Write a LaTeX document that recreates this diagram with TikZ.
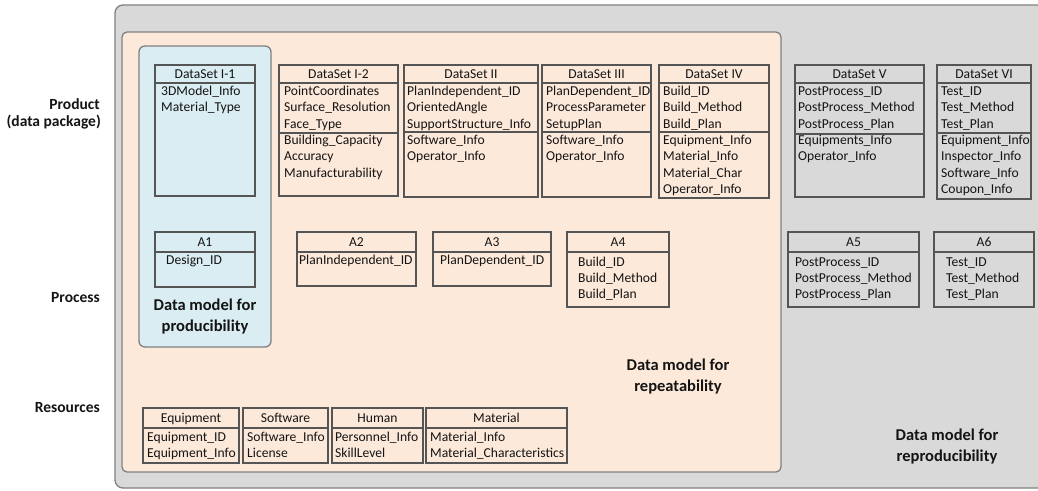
\documentclass[tikz,border=0pt]{standalone}
\usepackage{fontspec}
\setmainfont{Carlito}
\usetikzlibrary{fit}
\definecolor{greybg}{HTML}{D9D9D9}
\definecolor{greyln}{HTML}{808080}
\definecolor{peach}{HTML}{FDE9DA}
\definecolor{bluebg}{HTML}{DAEDF3}
\definecolor{boxln}{HTML}{555555}
\definecolor{txt}{HTML}{141414}
\newcommand\lnoff{12.5}
\newcommand\lnpitch{16.3}
% name, x1, y1, x2, y2, divider y, title, text x, lines
\newcommand\dbox[9]{%
  \node[bx, fit={(#2,#3) (#4,#5)}] (#1) {};
  \draw[bl] (#2,#6) -- (#4,#6);
  \node[ttl] (#1-t) at ({(#2+#4)/2},{(#3+#6)/2+4.5}) {#7};
  \foreach \t [count=\i] in {#9}
    \node[ln] (#1-\i) at (#8,{#6+\lnoff+(\i-1)*\lnpitch}) {\t};
}
\begin{document}
\begin{tikzpicture}[x=1pt,y=-1pt,
  font=\fontsize{13.6}{16}\selectfont, text=txt,
  bx/.style={draw=boxln, line width=1.2pt, inner sep=0pt},
  bl/.style={draw=boxln, line width=1.2pt},
  ttl/.style={anchor=base, inner sep=0pt},
  ln/.style={anchor=base west, inner sep=0pt},
  lbl/.style={font=\fontsize{15.5}{18}\selectfont\bfseries, anchor=base east, inner sep=0pt},
  big/.style={font=\fontsize{16.5}{21}\selectfont\bfseries, align=center, inner sep=0pt},
  region/.style={draw=greyln, line width=1.3pt}]
\clip (0,0) rectangle (1038,490);
\fill[white] (0,0) rectangle (1038,490);
% regions
\draw[region, fill=greybg, rounded corners=8pt] (115,5) rectangle (1070,488);
\draw[region, fill=peach, rounded corners=5pt] (122,32) rectangle (781,472);
\draw[region, fill=bluebg, rounded corners=6pt] (139,46) rectangle (271,347);
% row labels
\node[lbl] (lprod) at (100,109) {Product};
\node[lbl] (lpkg) at (101,126) {(data package)};
\node[lbl] (lproc) at (100,302) {Process};
\node[lbl] (lres) at (100,412) {Resources};
% data sets
\dbox{ds1}{155}{65}{255}{196}{83}{DataSet I-1}{161}{3DModel\_Info,Material\_Type}
\dbox{ds2}{279}{65}{398}{196}{83}{DataSet I-2}{284}{PointCoordinates,Surface\_Resolution,Face\_Type,Building\_Capacity,Accuracy,Manufacturability}
\draw[bl] (279,133) -- (398,133);
\dbox{ds3}{404}{65}{538}{197}{83}{DataSet II}{407}{PlanIndependent\_ID,OrientedAngle,SupportStructure\_Info,Software\_Info,Operator\_Info}
\draw[bl] (404,132) -- (538,132);
\dbox{ds4}{542}{65}{651}{197}{83}{DataSet III}{546}{PlanDependent\_ID,ProcessParameter,SetupPlan,Software\_Info,Operator\_Info}
\draw[bl] (542,132) -- (651,132);
\dbox{ds5}{659}{65}{769}{198}{83}{DataSet IV}{663}{Build\_ID,Build\_Method,Build\_Plan,Equipment\_Info,Material\_Info,Material\_Char,Operator\_Info}
\draw[bl] (659,132) -- (769,132);
\dbox{ds6}{795}{65}{924}{197}{83}{DataSet V}{798}{PostProcess\_ID,PostProcess\_Method,PostProcess\_Plan,Equipments\_Info,Operator\_Info}
\draw[bl] (795,134) -- (924,134);
\dbox{ds7}{937}{65}{1031}{199}{83}{DataSet VI}{941}{Test\_ID,Test\_Method,Test\_Plan,Equipment\_Info,Inspector\_Info,Software\_Info,Coupon\_Info}
\draw[bl] (937,133) -- (1031,133);
% process boxes
\renewcommand\lnoff{12.5}
\renewcommand\lnpitch{16}
\dbox{a1}{155}{232}{255}{287}{252}{A1}{166}{Design\_ID}
\dbox{a2}{297}{232}{416}{286}{252}{A2}{299}{PlanIndependent\_ID}
\dbox{a3}{433}{232}{551}{286}{252}{A3}{440}{PlanDependent\_ID}
\renewcommand\lnoff{14.5}
\dbox{a4}{567}{232}{669}{307}{252}{A4}{578}{Build\_ID,Build\_Method,Build\_Plan}
\dbox{a5}{788}{232}{919}{307}{252}{A5}{795}{PostProcess\_ID,PostProcess\_Method,PostProcess\_Plan}
\dbox{a6}{934}{232}{1034}{307}{252}{A6}{946}{Test\_ID,Test\_Method,Test\_Plan}
% resources
\renewcommand\lnoff{13.5}
\renewcommand\lnpitch{15.5}
\dbox{r1}{143}{408}{239}{463}{428}{Equipment}{147}{Equipment\_ID,Equipment\_Info}
\dbox{r2}{243}{408}{328}{463}{428}{Software}{247}{Software\_Info,License}
\dbox{r3}{332}{408}{423}{463}{428}{Human}{335}{Personnel\_Info,SkillLevel}
\dbox{r4}{426}{408}{567}{463}{428}{Material}{430}{Material\_Info,Material\_Characteristics}
% model labels
\node[big] (mprod) at (205,317) {Data model for\\producibility};
\node[big] (mrep) at (678,377) {Data model for\\repeatability};
\node[big] (mrepro) at (947,446.5) {Data model for\\reproducibility};
\end{tikzpicture}
\end{document}
